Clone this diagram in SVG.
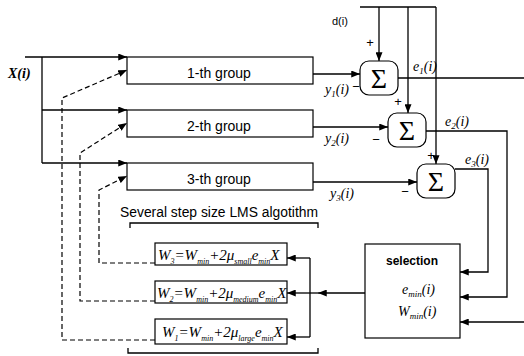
<svg xmlns="http://www.w3.org/2000/svg" width="524" height="356" viewBox="0 0 524 356">
<style>
.ln{fill:none;stroke:#000;stroke-width:1.3}
.da{fill:none;stroke:#000;stroke-width:1.2;stroke-dasharray:5,3}
.bx{fill:#fff;stroke:#000;stroke-width:1.2}
.sans{font-family:"Liberation Sans",Arial,sans-serif;fill:#000}
.it{font-family:"Liberation Serif","Times New Roman",serif;font-style:italic;fill:#000;font-size:14px}
.sb{font-size:9px}
.ws{font-size:8px}
.wf{font-family:"Liberation Serif","Times New Roman",serif;font-style:italic;fill:#000;font-size:15px}
.sg{font-family:"Liberation Serif","Times New Roman",serif;font-size:28px;fill:#000}
</style>
<defs>
<marker id="ah" viewBox="0 0 10 8" refX="10" refY="4" markerWidth="9" markerHeight="7" orient="auto" markerUnits="userSpaceOnUse"><path d="M0,0 L10,4 L0,8 z" fill="#000"/></marker>
</defs>
<rect width="524" height="356" fill="#fff"/>

<g id="connectors">
<path class="ln" d="M25,57 H127" marker-end="url(#ah)"/>
<path class="ln" d="M42,57 V163"/>
<path class="ln" d="M42,110 H127" marker-end="url(#ah)"/>
<path class="ln" d="M42,163 H127" marker-end="url(#ah)"/>
<path class="ln" d="M313,74 H360" marker-end="url(#ah)"/>
<path class="ln" d="M313,127 H388" marker-end="url(#ah)"/>
<path class="ln" d="M313,182 H417" marker-end="url(#ah)"/>
<path class="ln" d="M360,7 H436"/>
<path class="ln" d="M379,7 V61" marker-end="url(#ah)"/>
<path class="ln" d="M408,7 V113" marker-end="url(#ah)"/>
<path class="ln" d="M436,7 V164" marker-end="url(#ah)"/>
<path class="ln" d="M398,78 H524"/>
<path class="ln" d="M426,131 H507 V297 H460" marker-end="url(#ah)"/>
<path class="ln" d="M455,169 H488 V272 H460" marker-end="url(#ah)"/>
<path class="ln" d="M524,322 H460" marker-end="url(#ah)"/>
<path class="ln" d="M365,293 H318" marker-end="url(#ah)"/>
<path class="ln" d="M318,293 H287" marker-end="url(#ah)"/>
<path class="ln" d="M310,258 V337"/>
<path class="ln" d="M310,258 H287" marker-end="url(#ah)"/>
<path class="ln" d="M310,337 H287" marker-end="url(#ah)"/>
<path class="da" d="M155,340 H62 V98 L127,70" marker-end="url(#ah)"/>
<path class="da" d="M155,301 H80 V153 L127,123" marker-end="url(#ah)"/>
<path class="da" d="M155,263 H99 V190 L127,176" marker-end="url(#ah)"/>
</g>

<g id="x-input">
<text x="8" y="78" class="it" font-weight="bold" font-size="15">X(i)</text>
</g>

<g id="group1">
<rect class="bx" x="127" y="57" width="186" height="27"/>
<text x="219" y="78" class="sans" font-size="14" text-anchor="middle">1-th group</text>
</g>
<g id="group2">
<rect class="bx" x="127" y="110" width="186" height="27"/>
<text x="219" y="131" class="sans" font-size="14" text-anchor="middle">2-th group</text>
</g>
<g id="group3">
<rect class="bx" x="127" y="163" width="186" height="27"/>
<text x="219" y="184" class="sans" font-size="14" text-anchor="middle">3-th group</text>
</g>

<g id="d-input">
<text x="332" y="25" class="sans" font-size="11">d(i)</text>
</g>

<g id="sum1">
<rect class="bx" x="360" y="61" width="38" height="34" rx="9"/>
<text x="379" y="88" class="sg" text-anchor="middle">Σ</text>
<text x="370" y="47" class="sans" font-size="13" text-anchor="middle">+</text>
<text x="356" y="91" class="sans" font-size="13" text-anchor="middle">−</text>
<text x="325" y="94" class="it">y<tspan class="sb" dy="3">1</tspan><tspan dy="-3">(i)</tspan></text>
<text x="413" y="71" class="it">e<tspan class="sb" dy="3">1</tspan><tspan dy="-3">(i)</tspan></text>
</g>
<g id="sum2">
<rect class="bx" x="388" y="113" width="38" height="34" rx="9"/>
<text x="407" y="140" class="sg" text-anchor="middle">Σ</text>
<text x="398" y="106" class="sans" font-size="13" text-anchor="middle">+</text>
<text x="376" y="144" class="sans" font-size="13" text-anchor="middle">−</text>
<text x="325" y="143" class="it">y<tspan class="sb" dy="3">2</tspan><tspan dy="-3">(i)</tspan></text>
<text x="445" y="126" class="it">e<tspan class="sb" dy="3">2</tspan><tspan dy="-3">(i)</tspan></text>
</g>
<g id="sum3">
<rect class="bx" x="417" y="164" width="38" height="34" rx="9"/>
<text x="436" y="191" class="sg" text-anchor="middle">Σ</text>
<text x="431" y="160" class="sans" font-size="13" text-anchor="middle">+</text>
<text x="405" y="196" class="sans" font-size="13" text-anchor="middle">−</text>
<text x="330" y="198" class="it">y<tspan class="sb" dy="3">3</tspan><tspan dy="-3">(i)</tspan></text>
<text x="465" y="164" class="it">e<tspan class="sb" dy="3">3</tspan><tspan dy="-3">(i)</tspan></text>
</g>

<g id="lms-block">
<text x="120" y="217" class="sans" font-size="14" textLength="198" lengthAdjust="spacingAndGlyphs">Several step size LMS algotithm</text>
<path class="ln" d="M130,228 V223 H318 V228"/>
<path class="ln" d="M128,348 V353 H318 V348"/>
</g>

<g id="w3">
<rect class="bx" x="155" y="243" width="132" height="22"/>
<text x="158" y="260" class="wf">W<tspan class="ws" dy="4">3</tspan><tspan dy="-4">=W</tspan><tspan class="ws" dy="4">min</tspan><tspan dy="-4">+2μ</tspan><tspan class="ws" dy="4">small</tspan><tspan dy="-4">e</tspan><tspan class="ws" dy="4">min</tspan><tspan dy="-4">X</tspan></text>
</g>
<g id="w2">
<rect class="bx" x="155" y="281" width="132" height="22"/>
<text x="157" y="298" class="wf">W<tspan class="ws" dy="4">2</tspan><tspan dy="-4">=W</tspan><tspan class="ws" dy="4">min</tspan><tspan dy="-4">+2μ</tspan><tspan class="ws" dy="4">medium</tspan><tspan dy="-4">e</tspan><tspan class="ws" dy="4">min</tspan><tspan dy="-4">X</tspan></text>
</g>
<g id="w1">
<rect class="bx" x="155" y="319" width="132" height="25"/>
<text x="162" y="337" class="wf">W<tspan class="ws" dy="4">1</tspan><tspan dy="-4">=W</tspan><tspan class="ws" dy="4">min</tspan><tspan dy="-4">+2μ</tspan><tspan class="ws" dy="4">large</tspan><tspan dy="-4">e</tspan><tspan class="ws" dy="4">min</tspan><tspan dy="-4">X</tspan></text>
</g>

<g id="selection">
<rect class="bx" x="365" y="244" width="95" height="94"/>
<text x="412" y="265" class="sans" font-size="12" font-weight="bold" text-anchor="middle">selection</text>
<text x="402" y="294" class="it">e<tspan class="sb" dy="3">min</tspan><tspan dy="-3">(i)</tspan></text>
<text x="398" y="316" class="it">W<tspan class="sb" dy="3">min</tspan><tspan dy="-3">(i)</tspan></text>
</g>
</svg>
